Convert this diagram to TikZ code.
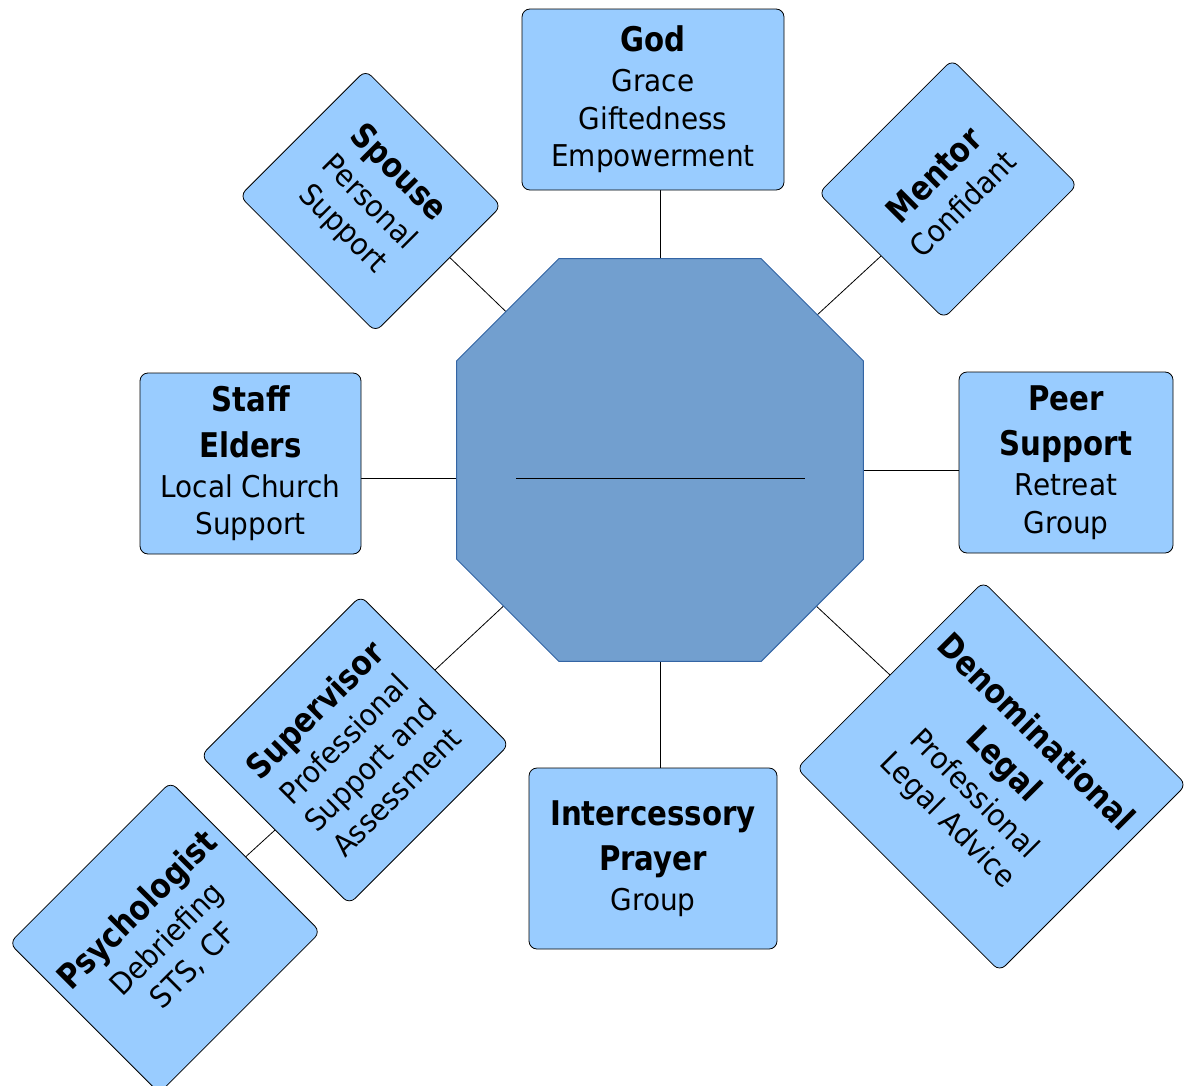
\documentclass[tikz,border=0pt]{standalone}
\usepackage{fontspec}
\setmainfont{DejaVu Sans}[FakeStretch=0.93]
\newfontfamily\headfont{DejaVu Sans}[FakeStretch=0.86]
\usetikzlibrary{backgrounds,calc}

\definecolor{boxblue}{HTML}{99CCFF}
\definecolor{hubblue}{HTML}{729FCF}
\definecolor{hubedge}{HTML}{3465A4}

\newcommand{\boxhead}[1]{{\headfont\bfseries\fontsize{25.5}{34}\selectfont #1}}

\tikzset{
  infobox/.style={draw=black, line width=0.6pt, fill=boxblue, rounded corners=6pt,
    align=center, inner sep=1pt, font=\fontsize{22.5}{28}\selectfont},
  link/.style={draw=black, line width=0.6pt},
  hubshape/.style={fill=hubblue, draw=hubedge, line width=0.75pt},
}

\begin{document}
\begin{tikzpicture}[x=0.75pt,y=0.75pt,yscale=-1,xscale=1]
	\useasboundingbox (0,0) rectangle (1192,1085);
	
	% Centre octagon
	\node (hub) [minimum width=304.5pt, minimum height=301.5pt, inner sep=0pt] at (660,460) {};
	\draw [hubshape] ($(hub.north west)+(102,0)$) -- ($(hub.north east)+(-102,0)$)
	  -- ($(hub.north east)+(0,102)$) -- ($(hub.south east)+(0,-102)$)
	  -- ($(hub.south east)+(-102,0)$) -- ($(hub.south west)+(102,0)$)
	  -- ($(hub.south west)+(0,-102)$) -- ($(hub.north west)+(0,102)$) -- cycle;
	\coordinate (divL) at (516,478);
	\coordinate (divR) at (805,478);
	\draw [link, line width=0.75pt] (divL) -- (divR);
	
	% Upright boxes
	\node (god) [infobox, minimum width=196.5pt, minimum height=135.75pt] at (653,99.5)
	  {\boxhead{God}\\[2pt]Grace\\Giftedness\\Empowerment};
	\node (staff) [infobox, minimum width=165.75pt, minimum height=135.75pt] at (250.5,463.5)
	  {\boxhead{Staff}\\[6pt]\boxhead{Elders}\\[2pt]Local Church\\Support};
	\node (peer) [infobox, minimum width=160.5pt, minimum height=135.75pt] at (1066,462.5)
	  {\boxhead{Peer}\\[6pt]\boxhead{Support}\\[2pt]Retreat\\Group};
	\node (inter) [infobox, minimum width=186pt, minimum height=135.75pt] at (653,858.5)
	  {\boxhead{Intercessory}\\[6pt]\boxhead{Prayer}\\[2pt]Group};
	
	% Turned boxes
	\node (spouse) [infobox, rotate=-45, minimum width=144pt, minimum height=133.5pt] at (370.5,201)
	  {\boxhead{Spouse}\\[2pt]Personal\\Support};
	\node (mentor) [infobox, rotate=45, minimum width=141.75pt, minimum height=132.75pt] at (948,189)
	  {\boxhead{Mentor}\\[2pt]Confidant};
	\node (denom) [infobox, rotate=-45, minimum width=215.25pt, minimum height=198pt] at (991.5,776.5)
	  {\boxhead{Denominational}\\[6pt]\boxhead{Legal}\\[2pt]Professional\\Legal Advice};
	\node (sup) [infobox, rotate=45, minimum width=169.5pt, minimum height=157.5pt] at (355,750)
	  {\boxhead{Supervisor}\\[2pt]Professional\\Support and\\Assessment};
	\node (psych) [infobox, rotate=45, minimum width=171pt, minimum height=159pt] at (165,937.5)
	  {\boxhead{Psychologist}\\[2pt]Debriefing\\STS, CF};
	
	% Connectors
	\begin{scope}[on background layer]
	\draw [link] (hub.center |- god.south) -- (hub.center);
	\draw [link] (hub.center |- inter.north) -- (hub.center);
	\draw [link] (staff.east |- divL) -- (divL);
	\draw [link] ([yshift=5.6pt]peer.west) -- ([yshift=5.6pt]peer.west -| hub.center);
	\draw [link] ($(spouse.east)!0.18!(spouse.north east)$) -- (hub.center);
	\draw [link] (mentor.west) -- (hub.center);
	\draw [link] (sup.east) -- (hub.center);
	\draw [link] (denom.west) -- (hub.center);
	\draw [link] (psych.east) -- (sup.west);
	\end{scope}
	
\end{tikzpicture}
\end{document}
